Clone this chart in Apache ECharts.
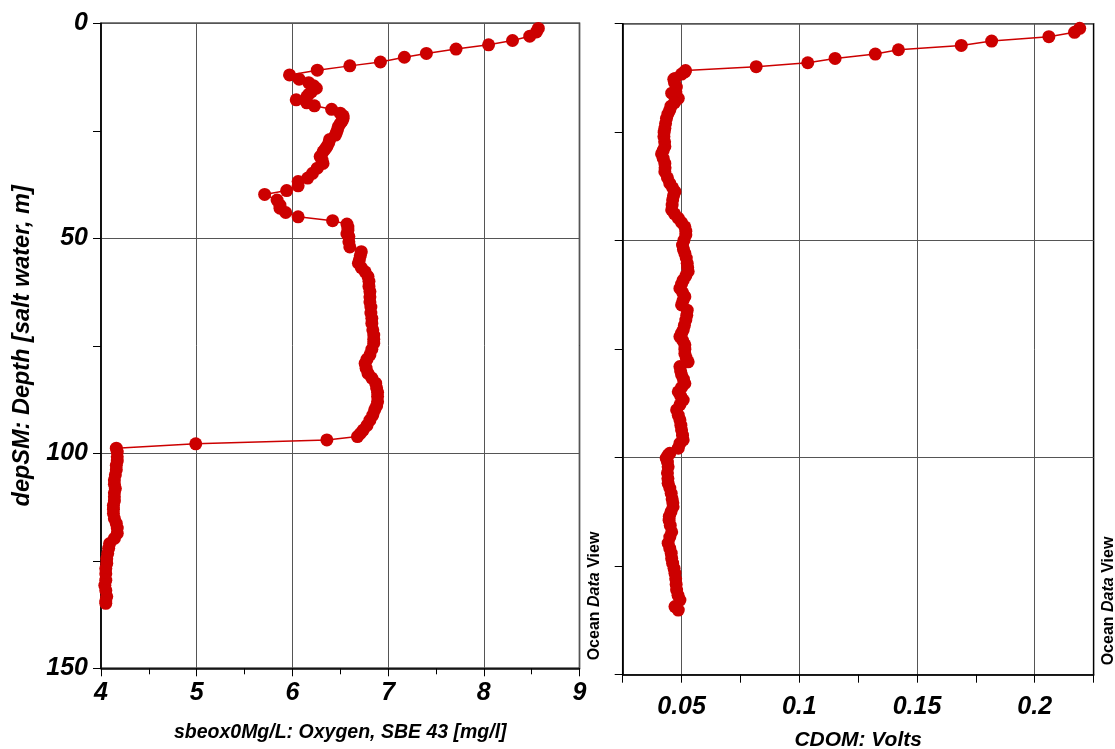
<!DOCTYPE html>
<html>
<head>
<meta charset="utf-8">
<script src="https://cdn.jsdelivr.net/npm/echarts@6/dist/echarts.min.js"></script>
<style>html,body{margin:0;padding:0;background:#fff}#c{width:1115px;height:749px}</style>
</head>
<body>
<div id="c"></div>
<script>
// ---- data ----
const oxyDepth = [1.2,2.0,3.0,4.0,5.0,6.0,7.0,7.9,9.0,9.9,10.9,12.0,13.0,13.8,14.5,15.1,15.9,16.5,17.1,17.8,18.5,19.2,20.0,20.9,21.5,22.1,22.7,23.3,24.0,24.8,25.4,26.0,27.0,27.8,28.7,29.3,29.9,31.0,31.8,32.6,33.7,34.9,36.0,36.8,37.8,38.9,39.8,41.1,42.3,43.0,44.0,45.0,45.9,46.7,47.4,48.1,49.0,49.6,50.8,52.0,53.1,54.0,55.0,55.8,56.8,57.8,58.9,60.0,61.2,62.4,63.6,64.8,66.0,67.4,68.6,69.8,71.3,72.5,73.5,74.4,75.8,77.1,78.1,79.1,80.2,81.4,82.5,83.7,84.8,85.8,86.8,88.0,89.0,89.9,91.1,92.3,93.5,94.6,95.4,96.1,96.9,97.8,98.8,99.7,100.8,101.8,102.8,103.8,105.0,106.2,107.2,108.2,109.2,110.1,111.1,112.1,113.0,114.0,115.2,116.3,117.4,118.6,119.8,121.0,122.1,123.3,124.5,125.6,126.8,128.0,129.5,130.7,131.9,133.3,134.3,134.9];
const oxyValue = [8.57,8.55,8.48,8.30,8.05,7.71,7.40,7.17,6.92,6.60,6.26,5.97,6.07,6.17,6.22,6.25,6.20,6.17,6.15,6.04,6.15,6.23,6.41,6.50,6.53,6.53,6.52,6.50,6.48,6.47,6.46,6.45,6.39,6.38,6.36,6.34,6.32,6.29,6.31,6.32,6.26,6.21,6.16,6.06,6.06,5.94,5.71,5.84,5.87,5.87,5.93,6.06,6.42,6.57,6.58,6.58,6.57,6.59,6.59,6.60,6.72,6.71,6.70,6.69,6.72,6.76,6.79,6.80,6.80,6.81,6.81,6.81,6.82,6.82,6.83,6.83,6.84,6.85,6.85,6.85,6.83,6.81,6.78,6.76,6.77,6.79,6.83,6.87,6.88,6.89,6.89,6.89,6.88,6.86,6.84,6.81,6.78,6.74,6.71,6.68,6.36,4.99,4.16,4.17,4.17,4.17,4.16,4.16,4.15,4.14,4.14,4.15,4.14,4.14,4.14,4.13,4.13,4.13,4.14,4.16,4.17,4.17,4.14,4.09,4.08,4.07,4.06,4.06,4.05,4.05,4.05,4.04,4.05,4.06,4.05,4.05];

const cdomDepth = [1.06,1.98,3.0,4.0,5.0,6.0,7.0,8.0,9.0,9.9,10.8,11.1,11.6,12.6,12.8,13.6,14.6,15.7,16.0,17.2,18.2,19.0,19.9,20.8,21.8,23.0,24.1,25.0,26.0,27.2,28.3,29.2,30.0,31.0,32.2,33.2,34.1,35.5,36.8,37.8,38.7,39.6,40.6,41.8,42.9,43.8,44.8,45.8,46.8,47.8,48.7,49.9,51.0,52.0,52.9,54.0,55.2,56.2,57.1,58.1,59.1,60.0,61.0,62.0,62.9,63.8,64.8,66.0,67.2,68.3,69.5,70.6,71.3,72.1,73.0,74.0,75.0,76.0,77.0,77.9,79.0,80.0,80.9,81.9,82.9,83.8,84.8,85.8,86.7,87.8,89.0,90.2,91.3,92.5,93.6,94.8,95.9,96.7,97.8,99.0,99.4,100.1,101.0,102.1,103.5,104.8,105.9,107.0,108.2,109.5,110.4,111.3,112.5,113.5,114.4,115.6,117.1,118.3,119.7,120.9,122.0,123.2,124.3,125.5,126.6,127.9,129.2,130.5,131.7,132.8,134.3,135.1];
const cdomValue = [0.2191,0.2169,0.2060,0.1817,0.1688,0.1421,0.1323,0.1152,0.1036,0.0817,0.0517,0.0514,0.0500,0.0472,0.0467,0.0470,0.0478,0.0476,0.0458,0.0486,0.0470,0.0455,0.0450,0.0442,0.0436,0.0432,0.0429,0.0426,0.0425,0.0428,0.0429,0.0422,0.0415,0.0422,0.0429,0.0430,0.0429,0.0440,0.0450,0.0462,0.0472,0.0466,0.0462,0.0460,0.0458,0.0470,0.0486,0.0500,0.0514,0.0518,0.0518,0.0510,0.0504,0.0508,0.0514,0.0520,0.0524,0.0526,0.0528,0.0518,0.0507,0.0500,0.0493,0.0505,0.0514,0.0506,0.0500,0.0524,0.0522,0.0518,0.0512,0.0507,0.0500,0.0493,0.0505,0.0514,0.0514,0.0514,0.0520,0.0528,0.0493,0.0496,0.0500,0.0508,0.0514,0.0500,0.0486,0.0496,0.0507,0.0493,0.0479,0.0486,0.0493,0.0497,0.0500,0.0504,0.0507,0.0493,0.0486,0.0450,0.0443,0.0435,0.0440,0.0443,0.0440,0.0442,0.0443,0.0450,0.0456,0.0460,0.0463,0.0464,0.0455,0.0448,0.0447,0.0452,0.0458,0.0450,0.0443,0.0450,0.0456,0.0458,0.0462,0.0468,0.0472,0.0475,0.0477,0.0479,0.0485,0.0493,0.0472,0.0486];

const oxyTitle = 'sbeox0Mg/L: Oxygen, SBE 43 [mg/l]';
const cdomTitle = 'CDOM: Volts';
const depthTitle = 'depSM: Depth [salt water, m]';
const watermark = ['Ocean ', 'Data', ' View'];

// ---- chart ----
const FONT = "'Liberation Sans Narrow', 'Liberation Sans', Arial, sans-serif";
const FONT2 = "'Liberation Sans', Arial, sans-serif";
const RED = '#cc0000';
const chart = echarts.init(document.getElementById('c'), null, {renderer: 'canvas'});

const tickLbl = {fontFamily: FONT, fontWeight: 'bold', fontStyle: 'italic', fontSize: 25, color: '#000'};
const nameSt = sz => ({fontFamily: FONT2, fontWeight: 'bold', fontStyle: 'italic', fontSize: sz, color: '#000'});

const oxyData = oxyDepth.map((d, i) => [oxyValue[i], d]);
const cdomData = cdomDepth.map((d, i) => [cdomValue[i], d]);

const wmRich = {
  a: {fontFamily: FONT2, fontWeight: 'bold', fontSize: 16, fill: '#000'},
  b: {fontFamily: FONT2, fontWeight: 'bold', fontStyle: 'italic', fontSize: 16, fill: '#000'}
};
const wmText = '{a|' + watermark[0] + '}{b|' + watermark[1] + '}{a|' + watermark[2] + '}';

const option = {
  animation: false,
  grid: [
    {left: 101, right: 1115 - 579.5, top: 23.3, bottom: 749 - 668.3, show: true, borderColor: '#000', borderWidth: 1.5,
     backgroundColor: 'transparent', containLabel: false, outerBoundsMode: 'none'},
    {left: 622.7, right: 1115 - 1093.6, top: 23.7, bottom: 749 - 674.7, show: true, borderColor: '#000', borderWidth: 1.5,
     backgroundColor: 'transparent', containLabel: false, outerBoundsMode: 'none'}
  ],
  xAxis: [
    {
      gridIndex: 0, type: 'value', min: 4, max: 9, interval: 1, position: 'bottom',
      axisLine: {show: true, onZero: false, lineStyle: {color: '#000', width: 1.5}},
      axisTick: {show: true, length: 8, lineStyle: {color: '#000'}},
      minorTick: {show: true, splitNumber: 2, length: 6, lineStyle: {color: '#000'}},
      axisLabel: Object.assign({margin: 12}, tickLbl),
      splitLine: {show: true, lineStyle: {color: '#555', width: 1}},
      name: oxyTitle, nameLocation: 'middle', nameGap: 54, nameTextStyle: nameSt(19.5)
    },
    {
      gridIndex: 1, type: 'value', min: 0.025, max: 0.225, interval: 0.025, position: 'bottom',
      axisLine: {show: true, onZero: false, lineStyle: {color: '#000', width: 1.5}},
      axisTick: {show: true, length: 8, lineStyle: {color: '#000'}},
      axisLabel: Object.assign({margin: 20, formatter: v => (Math.round(v / 0.025) % 2 === 0 ? String(+v.toFixed(3)) : '')}, tickLbl),
      splitLine: {show: true, lineStyle: {color: ['transparent', '#555'], width: 1}},
      name: cdomTitle, nameLocation: 'middle', nameGap: 55, nameTextStyle: nameSt(21)
    }
  ],
  yAxis: [
    {
      gridIndex: 0, type: 'value', min: 0, max: 150, interval: 50, inverse: true, position: 'left',
      axisLine: {show: true, onZero: false, lineStyle: {color: '#000', width: 1.5}},
      axisTick: {show: true, length: 8, lineStyle: {color: '#000'}},
      minorTick: {show: true, splitNumber: 2, length: 8, lineStyle: {color: '#000'}},
      axisLabel: Object.assign({margin: 13}, tickLbl),
      splitLine: {show: true, lineStyle: {color: '#555', width: 1}},
      name: depthTitle, nameLocation: 'middle', nameGap: 67, nameRotate: 90, nameTextStyle: nameSt(23.5)
    },
    {
      gridIndex: 1, type: 'value', min: 0, max: 150, interval: 50, inverse: true, position: 'left',
      axisLine: {show: true, onZero: false, lineStyle: {color: '#000', width: 1.5}},
      axisTick: {show: true, length: 8, lineStyle: {color: '#000'}},
      minorTick: {show: true, splitNumber: 2, length: 8, lineStyle: {color: '#000'}},
      axisLabel: {show: false},
      splitLine: {show: true, lineStyle: {color: '#555', width: 1}}
    }
  ],
  series: [
    {type: 'line', xAxisIndex: 0, yAxisIndex: 0, data: oxyData, symbol: 'circle', symbolSize: 13,
     itemStyle: {color: RED}, lineStyle: {color: RED, width: 1.5}, z: 5},
    {type: 'line', xAxisIndex: 1, yAxisIndex: 1, data: cdomData, symbol: 'circle', symbolSize: 13,
     itemStyle: {color: RED}, lineStyle: {color: RED, width: 1.5}, z: 5}
  ],
  graphic: [
    {type: 'text', x: 595, y: 596, rotation: Math.PI / 2,
     style: {text: wmText, align: 'center', verticalAlign: 'middle', rich: wmRich}},
    {type: 'text', x: 1109, y: 601, rotation: Math.PI / 2,
     style: {text: wmText, align: 'center', verticalAlign: 'middle', rich: wmRich}}
  ]
};
chart.setOption(option);
</script>
</body>
</html>
